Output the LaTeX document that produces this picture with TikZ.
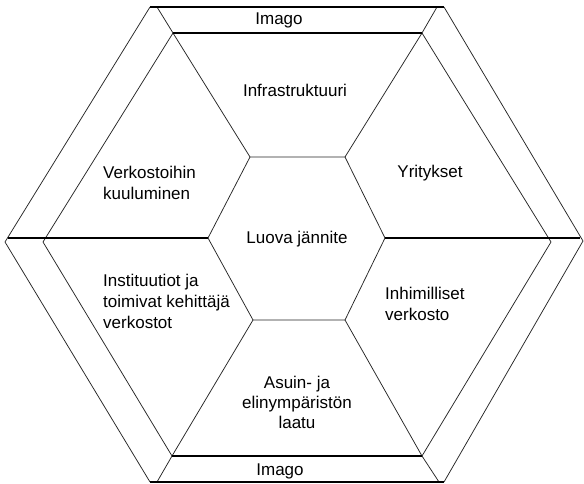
\documentclass[tikz,border=0pt]{standalone}
\usepackage{fontspec}
\setmainfont{Liberation Sans}
\begin{document}
\begin{tikzpicture}[x=1pt,y=-1pt,
  edge/.style={draw=black!85,line width=0.75pt,line join=miter},
  hline/.style={draw=black,line width=1.1pt},
  lbl/.style={inner sep=0pt,font=\fontsize{17}{21}\selectfont,align=left},
  clbl/.style={inner sep=0pt,font=\fontsize{17}{20}\selectfont,align=center}]
\useasboundingbox[fill=white] (0,0) rectangle (584,484);
% outer hexagon
\coordinate (O1) at (150,7);
\coordinate (O2) at (444,7);
\coordinate (O3) at (583,241);
\coordinate (O4) at (444,482);
\coordinate (O5) at (150,482);
\coordinate (O6) at (5,242);
% ring hexagon
\coordinate (R1) at (173,33);
\coordinate (R2) at (422,33);
\coordinate (R3) at (551,242);
\coordinate (R4) at (422,456);
\coordinate (R5) at (172,456);
\coordinate (R6) at (43,242);
% central hexagon
\coordinate (C1) at (250,157);
\coordinate (C2) at (345,157);
\coordinate (C3) at (385,238);
\coordinate (C4) at (345,320);
\coordinate (C5) at (253,320);
\coordinate (C6) at (208,238);
% band connectors
\coordinate (T1) at (157,7);
\coordinate (T2) at (437,7);
\coordinate (B1) at (157,482);
\coordinate (B2) at (439,482);
\coordinate (HL) at (8,238);
\coordinate (HR) at (580,238);

\draw[edge] (O1) -- (O6) -- (O5);
\draw[edge] (O2) -- (O3) -- (O4);
\draw[edge] (R1) -- (R6) -- (R5);
\draw[edge] (R2) -- (R3) -- (R4);
\draw[edge] (C1) -- (C2) -- (C3) -- (C4) -- (C5) -- (C6) -- cycle;
\draw[edge] (T1) -- (R1) -- (C1);
\draw[edge] (T2) -- (R2) -- (C2);
\draw[edge] (B1) -- (R5) -- (C5);
\draw[edge] (B2) -- (R4) -- (C4);
\draw[hline] (O1) -- (O2);
\draw[hline] (R1) -- (R2);
\draw[hline] (R5) -- (R4);
\draw[hline] (O5) -- (O4);
\draw[hline] (HL) -- (C6);
\draw[hline] (C3) -- (HR);

\node[clbl,anchor=base] (imtop) at (279,25) {Imago};
\node[clbl,anchor=base] (infra) at (295,97) {Infrastruktuuri};
\node[lbl,anchor=base west] (verk) at (103,200) {Verkostoihin\\kuuluminen};
\node[clbl,anchor=base] (yrit) at (430,178) {Yritykset};
\node[clbl,anchor=base] (luova) at (297,243) {Luova jännite};
\node[lbl,anchor=base west] (inst) at (103,328) {Instituutiot ja\\toimivat kehittäjä\\verkostot};
\node[lbl,anchor=base west] (inhim) at (385,320) {Inhimilliset\\verkosto};
\node[clbl,anchor=base] (asuin) at (297,428) {Asuin- ja\\elinympäristön\\laatu};
\node[clbl,anchor=base] (imbot) at (280,475) {Imago};
\end{tikzpicture}
\end{document}
